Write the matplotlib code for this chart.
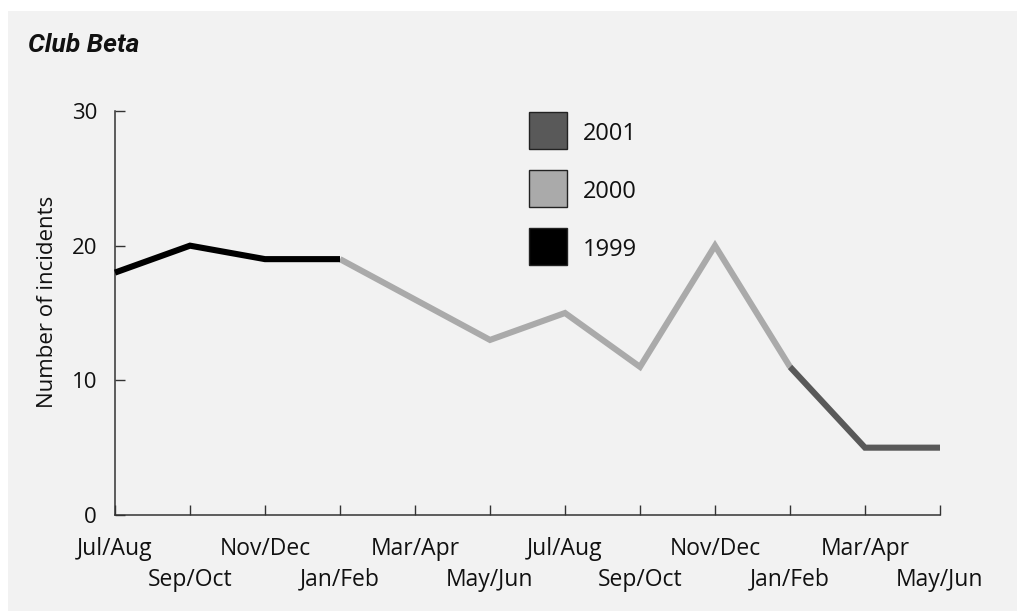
import matplotlib
matplotlib.use("Agg")
import matplotlib.pyplot as plt
from matplotlib.patches import Rectangle

# ---- data ----
categories = ["Jul/Aug", "Sep/Oct", "Nov/Dec", "Jan/Feb", "Mar/Apr", "May/Jun",
              "Jul/Aug", "Sep/Oct", "Nov/Dec", "Jan/Feb", "Mar/Apr", "May/Jun"]
idx_1999 = [0, 1, 2, 3]
val_1999 = [18, 20, 19, 19]
idx_2000 = [3, 4, 5, 6, 7, 8, 9]
val_2000 = [19, 16, 13, 15, 11, 20, 11]
idx_2001 = [9, 10, 11]
val_2001 = [11, 5, 5]
y_ticks = [0, 10, 20, 30]
legend_labels = ["2001", "2000", "1999"]
title = "Club Beta"
ylabel = "Number of incidents"

c1999, c2000, c2001 = "#000000", "#aaaaaa", "#595959"
legend_colors = [c2001, c2000, c1999]
bg = "#f2f2f2"
axis_col = "#333333"

plt.rcParams['font.family'] = ['Open Sans', 'DejaVu Sans']

W, H = 1017, 611
fig = plt.figure(figsize=(W / 100, H / 100), dpi=100)
fig.patch.set_facecolor("white")
fig.patches.append(Rectangle((8 / W, 0), 1, (H - 11) / H, transform=fig.transFigure,
                             facecolor=bg, edgecolor="none", zorder=-10))

ax = fig.add_axes([115 / W, (H - 515) / H, (940 - 115) / W, (515 - 111) / H])
ax.set_zorder(2)
ax.set_facecolor("none")
ax.set_xlim(0, 11)
ax.set_ylim(0, 30)

lw = 4.4
ax.plot(idx_2000, val_2000, color=c2000, lw=lw, solid_joinstyle="miter",
        solid_capstyle="butt", clip_on=False, zorder=3)
ax.plot(idx_2001, val_2001, color=c2001, lw=lw, solid_joinstyle="miter",
        solid_capstyle="butt", clip_on=False, zorder=3)
ax.plot(idx_1999, val_1999, color=c1999, lw=lw, solid_joinstyle="miter",
        solid_capstyle="butt", clip_on=False, zorder=4)

for s in ["top", "right"]:
    ax.spines[s].set_visible(False)
for s in ["left", "bottom"]:
    ax.spines[s].set_color(axis_col)
    ax.spines[s].set_linewidth(1.1)

ax.set_yticks(y_ticks)
ax.set_yticklabels([str(v) for v in y_ticks])
ax.tick_params(axis="y", direction="in", length=7, width=1.0, color=axis_col,
               labelsize=16, pad=13, labelcolor="#111111")

major = list(range(0, len(categories), 2))
minor = list(range(1, len(categories), 2))
ax.set_xticks(major)
ax.set_xticklabels([categories[i] for i in major])
ax.set_xticks(minor, minor=True)
ax.set_xticklabels([categories[i] for i in minor], minor=True)
ax.tick_params(axis="x", which="major", direction="in", length=7, width=1.0,
               color=axis_col, labelsize=16.5, pad=16, labelcolor="#111111")
ax.tick_params(axis="x", which="minor", direction="in", length=7, width=1.0,
               color=axis_col, labelsize=16.5, pad=38, labelcolor="#111111")

fig.text(28 / W, 1 - 52 / H, title, fontsize=19, fontweight="bold", fontstyle="italic",
         family=["Roboto", "DejaVu Sans"], ha="left", va="baseline",
         color="#111111")
fig.text(48 / W, 1 - 302 / H, ylabel, rotation=90, fontsize=16, ha="center",
         va="center", color="#111111")

# legend drawn in figure pixels
for i, (lab, col) in enumerate(zip(legend_labels, legend_colors)):
    top = 112 + i * 58
    fig.patches.append(Rectangle((529 / W, 1 - (top + 37) / H), 38 / W, 37 / H,
                                 transform=fig.transFigure, facecolor=col,
                                 edgecolor="#222222", lw=1.0, zorder=5))
    fig.text(583 / W, 1 - (top + 18.5) / H, lab, fontsize=17, ha="left",
             va="center_baseline", color="#111111", zorder=6)

fig.savefig("out.png", dpi=100, facecolor="white")
